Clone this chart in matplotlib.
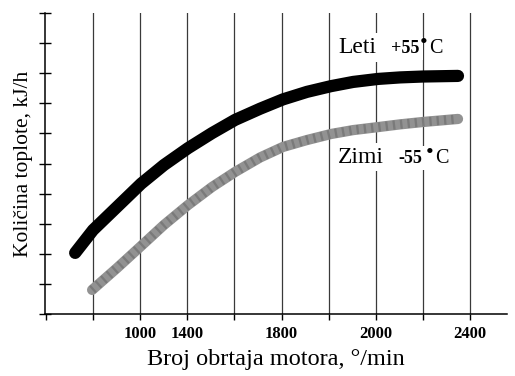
import matplotlib
matplotlib.use("Agg")
import matplotlib.pyplot as plt

# engine speed (rpm) and heat quantity (relative units, 10 divisions)
rpm_leti = [724, 800, 902, 1004, 1101, 1203, 1305, 1403, 1509, 1606,
            1708, 1810, 1904, 2010, 2103, 2201, 2349]
q_leti = [2.03, 2.79, 3.56, 4.33, 4.95, 5.51, 6.01, 6.45, 6.82, 7.13,
          7.38, 7.57, 7.71, 7.81, 7.86, 7.89, 7.91]
rpm_zimi = [796, 902, 1004, 1101, 1203, 1305, 1403, 1509, 1606, 1708,
            1810, 1904, 2010, 2103, 2201, 2349]
q_zimi = [0.80, 1.53, 2.26, 2.96, 3.62, 4.22, 4.72, 5.20, 5.55, 5.78,
          5.98, 6.11, 6.21, 6.30, 6.38, 6.48]

grid_rpm = [800, 1000, 1200, 1400, 1600, 1800, 2000, 2200, 2400]
tick_text = ["", "1000", "1400", "", "1800", "", "2000", "", "2400"]

SERIF = "Liberation Serif"
plt.rcParams["font.family"] = SERIF

fig = plt.figure(figsize=(5.15, 3.76), dpi=100)
ax = fig.add_axes([45 / 515, 1 - 314 / 376, 462 / 515, 301 / 376])
ax.set_xlim(596, 2557)
ax.set_ylim(0, 10)

for g in grid_rpm:
    ax.axvline(g, color="#3a3a3a", lw=0.9, zorder=1)

# summer curve: solid black band
ax.plot(rpm_leti, q_leti, color="black", lw=8.8, solid_capstyle="round",
        solid_joinstyle="round", zorder=3)
# winter curve: grey band with a fine hatched texture
ax.plot(rpm_zimi, q_zimi, color="#929292", lw=7.4, solid_capstyle="round",
        solid_joinstyle="round", zorder=3)
ax.plot(rpm_zimi, q_zimi, color="#3c3c3c", lw=6.6, ls=(0, (0.25, 0.55)),
        dash_capstyle="butt", alpha=0.28, zorder=4)

for side in ("top", "right"):
    ax.spines[side].set_visible(False)
ax.spines["left"].set_linewidth(1.1)
ax.spines["bottom"].set_linewidth(1.1)

ax.set_yticks(range(0, 11))
ax.set_yticklabels([])
ax.tick_params(axis="y", direction="inout", length=8, width=1.0)
ax.set_xticks([600] + grid_rpm)
ax.set_xticklabels([""] + tick_text, fontsize=12, fontweight="bold")
ax.tick_params(axis="x", direction="out", length=4, width=1.0, pad=5)

ax.set_ylabel("Količina toplote, kJ/h", fontsize=15.5, labelpad=1)
ax.set_xlabel("Broj obrtaja motora, °/min", fontsize=17.5, labelpad=5)

box = dict(facecolor="white", edgecolor="none", pad=2.5)
PX = 0.72  # points per pixel at 100 dpi


def temp_label(x, y, name, sign, dx_sign, dx_dot, dx_c):
    ax.text(x, y, name, fontsize=17, ha="left", va="baseline", bbox=box,
            zorder=5)
    ax.annotate(sign + "55", (x, y), xytext=(dx_sign * PX, 0),
                textcoords="offset points", fontsize=13, fontweight="bold",
                ha="left", va="baseline", bbox=box, zorder=5)
    ax.annotate("•", (x, y), xytext=(dx_dot * PX, 5 * PX),
                textcoords="offset points", fontsize=16, ha="center",
                va="baseline", zorder=6)
    ax.annotate("C", (x, y), xytext=(dx_c * PX, 0),
                textcoords="offset points", fontsize=14.5, ha="left",
                va="baseline", bbox=box, zorder=5)


temp_label(1840, 8.67, "Leti", "+", 53, 86, 91)
temp_label(1840, 5.02, "Zimi", "-", 60, 92, 97)

fig.savefig("out.png", dpi=100)
